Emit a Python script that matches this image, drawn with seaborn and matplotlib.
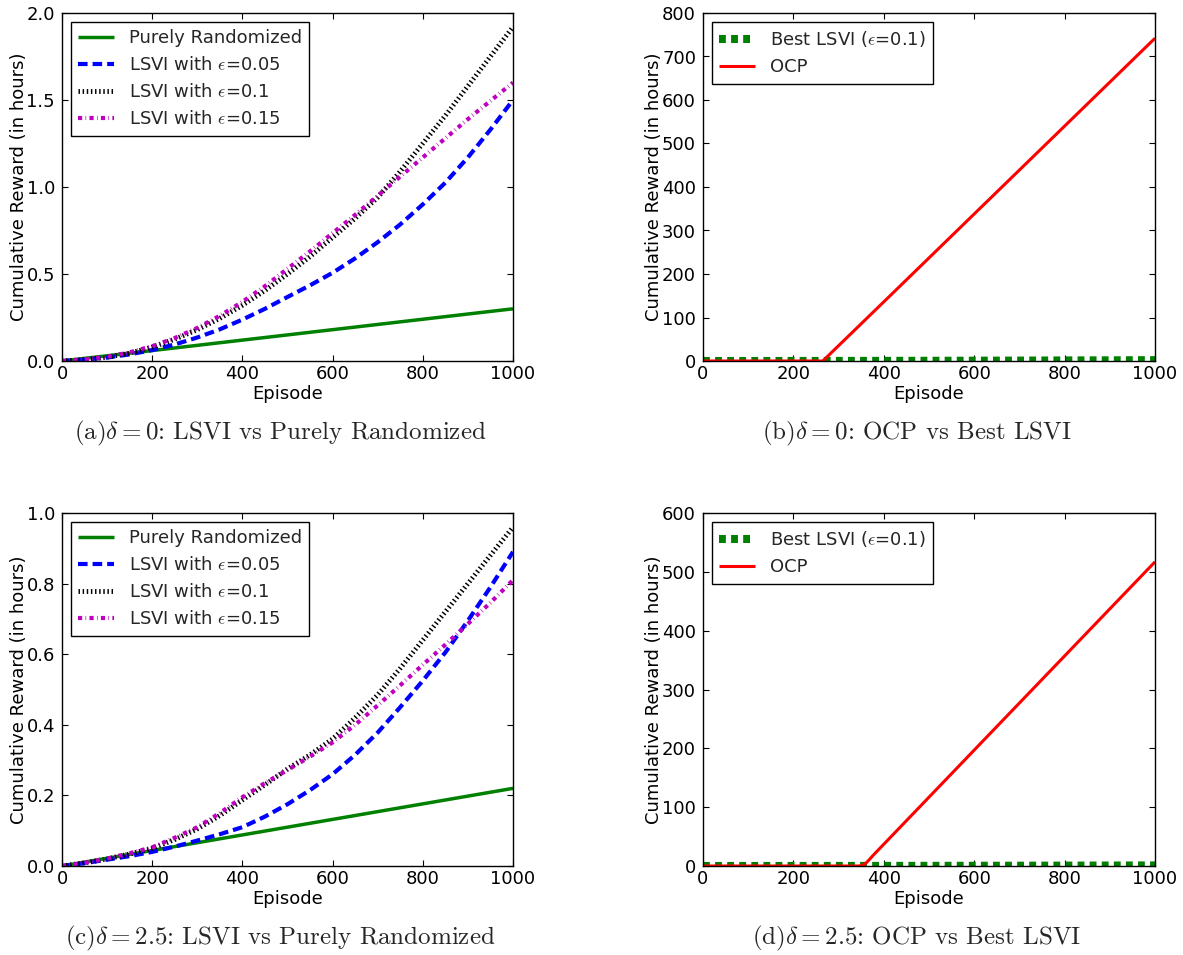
import matplotlib
matplotlib.use("Agg")
import matplotlib.pyplot as plt
import seaborn as sns

# ---------------- data ----------------
episodes = [0, 50, 100, 150, 200, 250, 300, 350, 400, 450, 500,
            550, 600, 650, 700, 750, 800, 850, 900, 950, 1000]

# delta = 0
rand_a = [0.000, 0.015, 0.030, 0.045, 0.060, 0.075, 0.090, 0.105, 0.120, 0.135, 0.150,
          0.165, 0.180, 0.195, 0.210, 0.225, 0.240, 0.255, 0.270, 0.285, 0.300]
eps005_a = [0.000, 0.008, 0.020, 0.038, 0.063, 0.095, 0.135, 0.182, 0.238, 0.300, 0.368,
            0.435, 0.507, 0.590, 0.683, 0.785, 0.900, 1.025, 1.170, 1.330, 1.500]
eps01_a = [0.000, 0.008, 0.022, 0.045, 0.080, 0.125, 0.180, 0.245, 0.320, 0.405, 0.500,
           0.600, 0.710, 0.820, 0.940, 1.090, 1.250, 1.410, 1.580, 1.750, 1.920]
eps015_a = [0.000, 0.009, 0.025, 0.050, 0.085, 0.132, 0.190, 0.260, 0.340, 0.430, 0.530,
            0.630, 0.735, 0.840, 0.950, 1.060, 1.170, 1.280, 1.390, 1.495, 1.600]

# delta = 2.5
rand_c = [0.000, 0.011, 0.022, 0.033, 0.044, 0.055, 0.066, 0.077, 0.088, 0.099, 0.110,
          0.121, 0.132, 0.143, 0.154, 0.165, 0.176, 0.187, 0.198, 0.209, 0.220]
eps005_c = [0.000, 0.008, 0.018, 0.028, 0.040, 0.055, 0.072, 0.090, 0.110, 0.140, 0.175,
            0.215, 0.260, 0.315, 0.378, 0.450, 0.525, 0.605, 0.695, 0.790, 0.890]
eps01_c = [0.000, 0.009, 0.020, 0.034, 0.050, 0.075, 0.105, 0.143, 0.187, 0.230, 0.275,
           0.315, 0.360, 0.420, 0.485, 0.560, 0.640, 0.720, 0.800, 0.880, 0.960]
eps015_c = [0.000, 0.009, 0.021, 0.036, 0.053, 0.080, 0.110, 0.150, 0.195, 0.235, 0.272,
            0.310, 0.350, 0.400, 0.455, 0.512, 0.570, 0.627, 0.686, 0.746, 0.810]

# OCP cumulative reward
ocp_b_x = [0, 100, 200, 265, 400, 600, 800, 1000]
ocp_b_y = [0, 0, 0, 0, 136, 338, 540, 742]
ocp_d_x = [0, 100, 200, 300, 345, 352, 360, 367, 375, 400, 500, 600, 700, 800, 900, 1000]
ocp_d_y = [0, 0, 0, 0, 0, 1, 4.5, 10, 17, 37, 117, 197, 277, 357, 437, 517]

xticks = [0, 200, 400, 600, 800, 1000]
yticks_a = [0.0, 0.5, 1.0, 1.5, 2.0]
yticks_b = [0, 100, 200, 300, 400, 500, 600, 700, 800]
yticks_c = [0.0, 0.2, 0.4, 0.6, 0.8, 1.0]
yticks_d = [0, 100, 200, 300, 400, 500, 600]

captions = [r"(a)$\delta=0$: LSVI vs Purely Randomized",
            r"(b)$\delta=0$: OCP vs Best LSVI",
            r"(c)$\delta=2.5$: LSVI vs Purely Randomized",
            r"(d)$\delta=2.5$: OCP vs Best LSVI"]

# ---------------- style ----------------
sns.set_style("ticks")
plt.rcParams.update({
    "font.family": ["DejaVu Sans"],
    "font.size": 13,
    "mathtext.fontset": "cm",
    "axes.edgecolor": "black",
    "axes.linewidth": 1.0,
    "axes.labelcolor": "black",
    "xtick.color": "black",
    "ytick.color": "black",
    "xtick.direction": "in",
    "ytick.direction": "in",
    "xtick.top": True,
    "ytick.right": True,
    "xtick.major.size": 4,
    "ytick.major.size": 4,
    "xtick.major.pad": 3,
    "ytick.major.pad": 5,
    "xtick.labelsize": 13,
    "ytick.labelsize": 13,
    "axes.labelsize": 13,
    "legend.fontsize": 13,
    "legend.fancybox": False,
    "legend.edgecolor": "black",
    "legend.framealpha": 1.0,
    "legend.borderpad": 0.4,
    "legend.handlelength": 2.0,
    "legend.handletextpad": 0.8,
    "lines.solid_capstyle": "butt",
    "lines.dash_capstyle": "butt",
})

fig = plt.figure(figsize=(11.83, 9.55), dpi=100)
W, H = 1183, 955
def axbox(l, r, t, b):
    return [l / W, 1 - b / H, (r - l) / W, (b - t) / H]

ax_a = fig.add_axes(axbox(62, 513, 13, 361))
ax_b = fig.add_axes(axbox(703, 1155, 13, 361))
ax_c = fig.add_axes(axbox(62, 513, 513, 866))
ax_d = fig.add_axes(axbox(703, 1155, 513, 866))

DASH_BLUE = (0, (2.3, 1.2))
DASH_BLACK = (0, (0.3, 0.55))
DASH_MAG = (0, (1.0, 0.8, 0.15, 0.8))
DASH_GREEN = (0, (0.85, 0.65))

def lsvi_panel(ax, r, e1, e2, e3, yt):
    sns.lineplot(x=episodes, y=r, ax=ax, color="green", lw=2.5, label="Purely Randomized")
    sns.lineplot(x=episodes, y=e1, ax=ax, color="blue", lw=3.0, linestyle=DASH_BLUE,
                 label=r"LSVI with $\epsilon$=0.05")
    sns.lineplot(x=episodes, y=e2, ax=ax, color="black", lw=3.5, linestyle=DASH_BLACK,
                 label=r"LSVI with $\epsilon$=0.1")
    sns.lineplot(x=episodes, y=e3, ax=ax, color="m", lw=3.0, linestyle=DASH_MAG,
                 label=r"LSVI with $\epsilon$=0.15")
    ax.set_ylim(yt[0], yt[-1])
    ax.set_yticks(yt)
    ax.yaxis.set_major_formatter(matplotlib.ticker.FormatStrFormatter("%.1f"))

def ocp_panel(ax, best, ox, oy, yt):
    sns.lineplot(x=episodes, y=best, ax=ax, color="green", lw=5.8, linestyle=DASH_GREEN,
                 label=r"Best LSVI ($\epsilon$=0.1)")
    sns.lineplot(x=ox, y=oy, ax=ax, color="red", lw=2.2, label="OCP")
    ax.set_ylim(yt[0], yt[-1])
    ax.set_yticks(yt)

lsvi_panel(ax_a, rand_a, eps005_a, eps01_a, eps015_a, yticks_a)
ocp_panel(ax_b, eps01_a, ocp_b_x, ocp_b_y, yticks_b)
lsvi_panel(ax_c, rand_c, eps005_c, eps01_c, eps015_c, yticks_c)
ocp_panel(ax_d, eps01_c, ocp_d_x, ocp_d_y, yticks_d)

for ax in (ax_a, ax_b, ax_c, ax_d):
    ax.set_xlim(0, 1000)
    ax.set_xticks(xticks)
    ax.set_xlabel("Episode", labelpad=1)
    ax.set_ylabel("Cumulative Reward (in hours)", labelpad=-1)
    leg = ax.legend(loc="upper left", borderaxespad=0.5)
    leg.get_frame().set_linewidth(1.0)
    for sp in ax.spines.values():
        sp.set_visible(True)
        sp.set_color("black")

cap_pos = [(280, 433), (917, 433), (280, 938), (917, 938)]
for (cx, cy), txt in zip(cap_pos, captions):
    fig.text(cx / W, 1 - cy / H, txt, ha="center", va="center",
             fontsize=18, family="cmr10")

fig.savefig("out.png", dpi=100, facecolor="white")
